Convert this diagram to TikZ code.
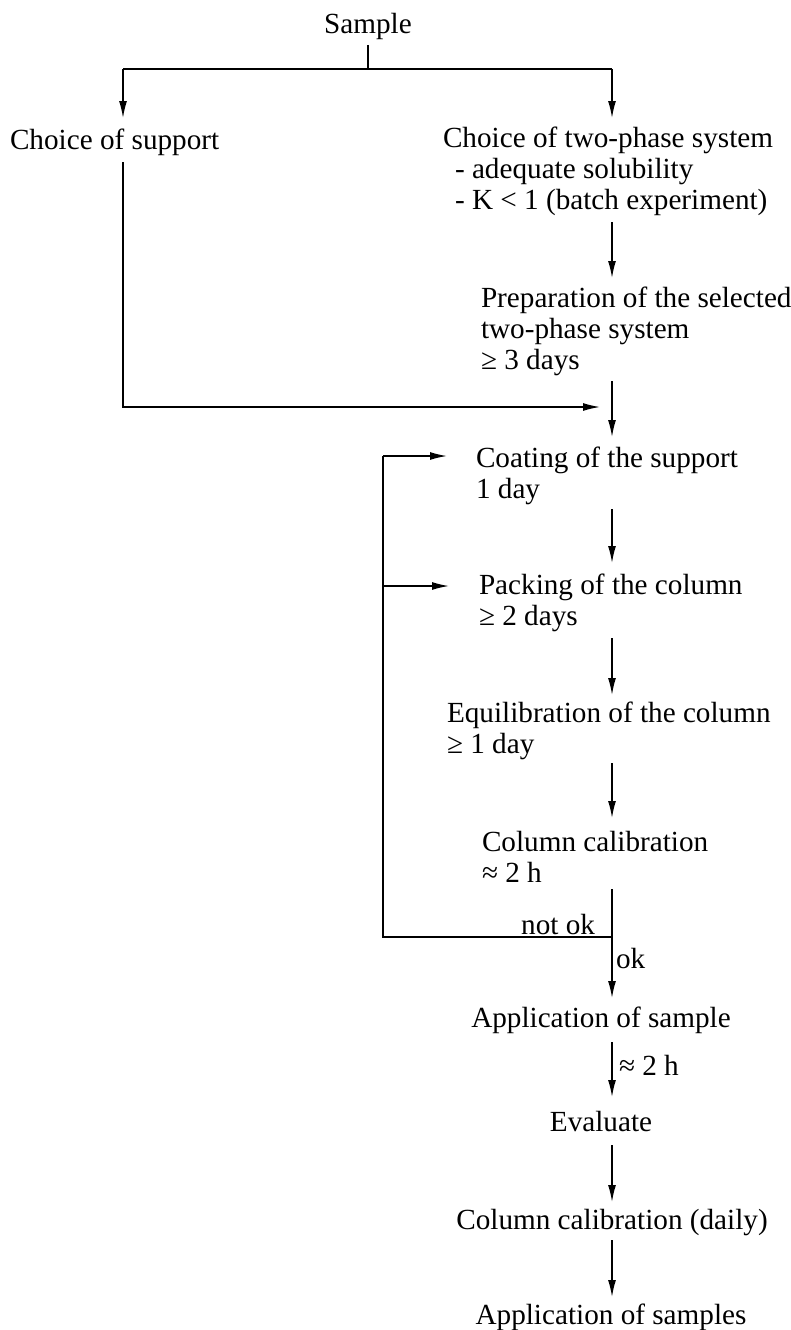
\documentclass[tikz,border=0pt]{standalone}
\usepackage{fontspec}
\setmainfont{Liberation Serif}
\usetikzlibrary{arrows.meta}
\newcommand\fstr{\rule{0pt}{21pt}}
\newcommand\lstr{\rule[-7pt]{0pt}{7pt}}
\begin{document}
\begin{tikzpicture}[x=1pt,y=-1pt, line width=1.5pt,
  txt/.style={inner sep=0pt, outer sep=0pt, font=\fontsize{29.2}{31}\selectfont, align=left, anchor=north west},
  ctxt/.style={inner sep=0pt, outer sep=0pt, font=\fontsize{29.2}{31}\selectfont, anchor=north},
  lbl/.style={inner sep=0pt, outer sep=0pt, font=\fontsize{29.2}{31}\selectfont},
  arr/.style={-{Latex[length=17pt,width=8pt]}}]
\useasboundingbox (0,0) rectangle (790,1330);
\coordinate (spine) at (612,0);
\coordinate (lt) at (123,69);
\coordinate (rt) at (612,69);
\coordinate (corner) at (123,407);
\coordinate (junction) at (612,937);
\coordinate (fbtop) at (383,456);
\coordinate (fbmid) at (383,586);

\node[ctxt] (sample) at (368,13) {\fstr Sample\lstr};
\node[txt] (cs) at (10,128) {\fstr Choice of support\lstr};
\node[txt] (c2) at (443,126) {\fstr Choice of two-phase system\\\hspace*{12pt}- adequate solubility\\\hspace*{12pt}- K < 1 (batch experiment)\lstr};
\node[txt] (prep) at (481,286) {\fstr Preparation of the selected\\two-phase system\\≥ 3 days\lstr};
\node[txt] (coat) at (476,446) {\fstr Coating of the support\\1 day\lstr};
\node[txt] (pack) at (479,573) {\fstr Packing of the column\\≥ 2 days\lstr};
\node[txt] (equi) at (447,701) {\fstr Equilibration of the column\\≥ 1 day\lstr};
\node[txt] (cal) at (482,830) {\fstr Column calibration\\≈ 2 h\lstr};
\node[ctxt] (apps) at (601,1006) {\fstr Application of sample\lstr};
\node[ctxt] (eval) at (601,1110) {\fstr Evaluate\lstr};
\node[ctxt] (cald) at (612,1208) {\fstr Column calibration (daily)\lstr};
\node[ctxt] (appss) at (611,1303) {\fstr Application of samples\lstr};

\node[lbl, anchor=base east] (notok) at (595,934) {not ok};
\node[lbl, anchor=base west] (ok) at (616,968) {ok};
\node[lbl, anchor=base west] (t2h) at (619,1075) {≈ 2 h};

\draw[shorten <=4pt] (sample.south) -- (sample.south |- lt);
\draw (lt) -- (rt);
\draw[arr, shorten >=10pt] (lt) -- (cs.north -| lt);
\draw[arr, shorten >=8pt] (rt) -- (c2.north -| rt);
\draw[arr, shorten <=6pt, shorten >=8pt] (c2.south -| spine) -- (prep.north -| spine);
\draw[arr, shorten <=6pt, shorten >=12pt] (cs.south -| lt) -- (corner) -- (corner -| spine);
\draw[arr, shorten <=5pt, shorten >=9pt] (prep.south -| spine) -- (coat.north -| spine);
\draw[arr, shorten <=4pt, shorten >=10pt] (coat.south -| spine) -- (pack.north -| spine);
\draw[arr, shorten <=6pt, shorten >=6pt] (pack.south -| spine) -- (equi.north -| spine);
\draw[arr, shorten <=3pt, shorten >=12pt] (equi.south -| spine) -- (cal.north -| spine);
\draw (cal.south -| spine) -- (junction);
\draw[arr, shorten >=8pt] (junction) -- (apps.north -| spine);
\draw (junction) -| (fbtop);
\draw[arr, shorten >=29pt] (fbtop) -- (fbtop -| coat.west);
\draw[arr, shorten >=30pt] (fbmid) -- (fbmid -| pack.west);
\draw[arr, shorten <=8pt, shorten >=13pt] (apps.south -| spine) -- (eval.north -| spine);
\draw[arr, shorten <=7pt, shorten >=6pt] (eval.south -| spine) -- (cald.north -| spine);
\draw[arr, shorten <=4pt, shorten >=6pt] (cald.south -| spine) -- (appss.north -| spine);
\end{tikzpicture}
\end{document}
